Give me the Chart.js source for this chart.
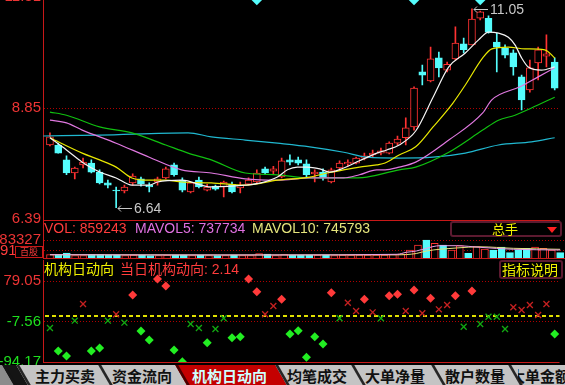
<!DOCTYPE html>
<html>
<head>
<meta charset="utf-8">
<script src="https://cdn.jsdelivr.net/npm/chart.js@4.4.1/dist/chart.umd.min.js"></script>
<style>
html, body { margin: 0; padding: 0; background: #000; }
#wrap { position: relative; width: 565px; height: 385px; overflow: hidden; background: #000;
        font-family: 'Liberation Sans', Arial, 'Noto Sans CJK SC', sans-serif; }
#wrap canvas { position: absolute; left: 0; }
.txt { position: absolute; font-size: 14px; line-height: 16px; white-space: nowrap; }
.box { position: absolute; box-sizing: border-box; border: 2px solid #5c1a30; border-radius: 3px; }
#tabs { position: absolute; left: 0; top: 365px; width: 565px; height: 20px; background: #8c8c8c; overflow: hidden; }
.tab { position: absolute; top: 0; height: 20px; background: #c4c4c4; transform: skewX(30deg);
       border-left: 3px solid #262626; box-sizing: border-box; }
.tab.on { background: #c40000; border-left-color: #4a0000; }
.tt { position: absolute; top: 0; height: 20px; line-height: 20px; white-space: nowrap;
      font: bold 15px 'Noto Sans CJK SC', sans-serif; color: #111; }
.tt.on { color: #cfffff; }
</style>
</head>
<body>
<div id="wrap">
  <canvas id="cPrice" width="565" height="246" style="top:-15px;width:565px;height:246px"></canvas>
  <canvas id="cVol" width="565" height="61" style="top:209px;width:565px;height:61px"></canvas>
  <canvas id="cInst" width="565" height="126" style="top:248px;width:565px;height:126px"></canvas>

  <div class="txt" style="left:44px;top:220px;color:#ff3c3c">VOL: 859243</div>
  <div class="txt" style="left:135px;top:220px;color:#e070e0">MAVOL5: 737734</div>
  <div class="txt" style="left:252px;top:220px;color:#e4e47c">MAVOL10: 745793</div>

  <div class="txt" style="left:0;top:242px;color:#ff3c3c;font-size:15px">91</div>
  <div style="position:absolute;left:15px;top:246px;width:28px;height:12px;box-sizing:border-box;border:1px solid #c81818;color:#ff3c3c;font-size:9px;line-height:10px;text-align:center;font-family:'Noto Sans CJK SC'">百股</div>

  <div class="box" style="left:450px;top:221px;width:112px;height:16px"></div>
  <div class="txt" style="left:492px;top:221px;color:#f4f400;font-size:13px;font-family:'Noto Sans CJK SC'">总手</div>
  <div style="position:absolute;left:547px;top:227px;width:0;height:0;border-left:5px solid transparent;border-right:5px solid transparent;border-top:6px solid #ff2020"></div>

  <div class="txt" style="left:44px;top:261px;color:#f0f000">机构日动向</div>
  <div class="txt" style="left:120px;top:261px;color:#ff3c3c">当日机构动向: 2.14</div>

  <div class="box" style="left:499px;top:260px;width:64px;height:19px"></div>
  <div class="txt" style="left:502px;top:261px;color:#f0f000;font-family:'Noto Sans CJK SC'">指标说明</div>

  <div id="tabs">
    <div class="tab" style="left:8px;width:14px;background:#141414;border-left-color:#141414"></div>
    <div class="tab" style="left:22px;width:82px"></div>
    <div class="tab" style="left:104px;width:77px"></div>
    <div class="tab on" style="left:181px;width:100px"></div>
    <div class="tab" style="left:281px;width:76px"></div>
    <div class="tab" style="left:357px;width:80px"></div>
    <div class="tab" style="left:437px;width:77px"></div>
    <div class="tab" style="left:514px;width:90px"></div>
    <span class="tt" style="left:35px">主力买卖</span>
    <span class="tt" style="left:112px">资金流向</span>
    <span class="tt on" style="left:192px">机构日动向</span>
    <span class="tt" style="left:287px">均笔成交</span>
    <span class="tt" style="left:365px">大单净量</span>
    <span class="tt" style="left:445px">散户数量</span>
    <div style="position:absolute;left:518px;top:0;width:60px;height:20px;overflow:hidden">
      <span class="tt" style="left:-8px">大单金额</span>
    </div>
  </div>
</div>

<script>
// --- data ---
const X_MIN = -0.84, X_MAX = 61.58;   // visible index range of the panels

const opens  = [8.03, 8.03, 7.70, 7.41, 7.59, 7.63, 7.43, 7.19, 7.03, 7.01,
                7.19, 7.28, 7.14, 7.21, 7.30, 7.59, 7.25, 6.99, 7.25, 7.03,
                7.12, 7.10, 7.16, 7.08, 7.16, 7.21, 7.50, 7.45, 7.32, 7.70,
                7.70, 7.61, 7.39, 7.43, 7.21, 7.52, 7.61, 7.63, 7.74, 7.81,
                7.85, 7.85, 8.07, 8.19, 8.43, 9.65, 9.45, 9.96, 9.69, 9.94,
                10.27, 10.25, 10.84, 10.84, 10.31, 10.18, 10.07, 9.54, 9.25, 9.85,
                10.00, 9.87];
const highs  = [8.30, 8.07, 7.79, 7.54, 7.74, 7.70, 7.48, 7.25, 7.10, 7.14,
                7.39, 7.32, 7.19, 7.32, 7.54, 7.63, 7.30, 7.21, 7.32, 7.16,
                7.14, 7.23, 7.21, 7.21, 7.30, 7.48, 7.54, 7.56, 7.74, 7.81,
                7.76, 7.70, 7.48, 7.50, 7.52, 7.68, 7.70, 7.76, 7.85, 7.92,
                7.96, 8.10, 8.23, 8.63, 9.32, 9.80, 10.20, 10.09, 9.87, 10.65,
                10.40, 11.05, 11.00, 10.89, 10.51, 10.25, 10.14, 9.58, 9.91, 10.20,
                10.47, 9.96];
const lows   = [8.01, 7.85, 7.37, 7.28, 7.52, 7.41, 7.17, 7.08, 6.64, 6.97,
                7.14, 7.12, 6.99, 7.14, 7.28, 7.34, 6.99, 6.97, 7.08, 7.01,
                7.03, 6.88, 6.97, 6.97, 7.14, 7.19, 7.37, 7.39, 7.30, 7.59,
                7.59, 7.32, 7.21, 7.25, 7.19, 7.50, 7.56, 7.61, 7.70, 7.76,
                7.81, 7.83, 8.03, 8.03, 8.36, 9.36, 9.43, 9.54, 9.65, 9.91,
                10.07, 10.25, 10.80, 10.51, 9.65, 9.96, 9.58, 8.81, 9.20, 9.47,
                9.76, 9.25];
const closes = [8.21, 7.85, 7.41, 7.52, 7.65, 7.43, 7.19, 7.14, 7.01, 7.10,
                7.34, 7.17, 7.10, 7.28, 7.50, 7.37, 7.03, 7.19, 7.10, 7.10,
                7.05, 7.21, 6.99, 7.14, 7.25, 7.41, 7.41, 7.50, 7.68, 7.65,
                7.63, 7.37, 7.43, 7.30, 7.48, 7.63, 7.65, 7.74, 7.79, 7.85,
                7.90, 8.07, 8.16, 8.41, 9.29, 9.58, 9.94, 9.74, 9.82, 10.29,
                10.14, 10.82, 10.98, 10.53, 10.20, 10.02, 9.76, 9.03, 9.74, 10.14,
                10.05, 9.29];
const priceTicks = [6.39, 8.85, 11.31];

// moving averages as [index, price] vertices
const ma5  = [[0,8.19],[2,7.92],[3.9,7.65],[6,7.43],[8,7.30],[9.9,7.14],[12,7.14],[13,7.21],[15.9,7.25],
              [19.5,7.10],[23.6,7.14],[25.5,7.19],[27.5,7.32],[28.7,7.48],[29.9,7.54],[31.1,7.54],[32.6,7.50],
              [33.8,7.43],[35.5,7.52],[37.4,7.68],[39.5,7.85],[40.7,7.92],[42.2,8.03],[44.2,8.34],[46.3,9.09],
              [48.2,9.76],[50.2,10.07],[51.8,10.36],[53.0,10.53],[54.2,10.51],[55.4,10.42],[56.2,10.25],
              [57.0,9.96],[57.8,9.76],[59.4,9.69],[61.0,9.76]];
const ma10 = [[0,8.19],[3.9,7.85],[6,7.70],[8,7.54],[9.9,7.30],[12,7.25],[14,7.25],[15.9,7.21],[19.5,7.19],
              [23.6,7.14],[27.5,7.25],[31.4,7.32],[33.5,7.41],[35.5,7.48],[37.4,7.54],[39.5,7.59],[40.5,7.63],
              [42.2,7.81],[44.2,7.99],[46.3,8.43],[48.7,8.96],[50.2,9.36],[52.3,9.96],[53.4,10.16],[55.4,10.20],
              [57.4,10.16],[59.8,10.14],[61.0,9.96]];
const ma20 = [[0,8.58],[2,8.52],[3.9,8.36],[8,8.07],[12,7.76],[15.9,7.48],[19.5,7.41],[23.6,7.28],[27.5,7.25],
              [31.4,7.30],[35.5,7.30],[37.4,7.37],[39.5,7.48],[40.5,7.48],[42.2,7.54],[44.2,7.65],[48.2,8.14],
              [52.3,8.74],[53.4,9.03],[56.8,9.32],[59.0,9.54],[61.0,9.74]];
const ma30 = [[0,8.76],[2,8.69],[6,8.43],[9.9,8.30],[14,8.03],[16.7,7.85],[19.5,7.70],[23.6,7.41],[27.5,7.37],
              [31.4,7.30],[35.5,7.30],[38.3,7.32],[42.2,7.48],[44.2,7.54],[48.2,7.87],[52.3,8.36],[54.2,8.58],
              [56.2,8.69],[58.2,8.85],[61.0,9.09]];
const ma60 = [[-0.8,8.23],[6,8.25],[16.7,8.30],[19.5,8.21],[23.6,8.14],[27.5,8.07],[31.4,7.99],[35.5,7.87],
              [38.3,7.76],[42.2,7.74],[46.3,7.76],[50.2,7.85],[54.2,8.03],[58.2,8.10],[61.0,8.19]];

const signalIdx = [25, 44, 52];
const signalPrice = 11.25;

// volume panel
const volumes = [22900, 22900, 29200, 18700, 18700, 22900, 22900, 20800, 20800, 18700,
                 20800, 20800, 18700, 18700, 20800, 20800, 20800, 18700, 20800, 18700,
                 18700, 18700, 20800, 18700, 18700, 27100, 25000, 18700, 22900, 20800,
                 20800, 20800, 20800, 20800, 18700, 20800, 20800, 20800, 20800, 20800,
                 20800, 22900, 25000, 41700, 62500, 83300, 69600, 62500, 41700, 59600,
                 27900, 55400, 45800, 41700, 54200, 30400, 41700, 48800, 54200, 48800,
                 41700, 30400];
const mavol5  = [[0,22000],[12,21000],[27.5,21000],[41.5,23700],[42.6,32100],[43.8,37500],[45,48700],
                 [46.6,59600],[48.6,59600],[51.4,52900],[55.4,44600],[61,41700]];
const mavol10 = [[0,22000],[20,20800],[41.5,21500],[43.8,27000],[45,37500],[48.6,50000],[51.4,55000],
                 [55.4,48700],[61,44600]];
const volTicks = [41663, 83327];
const VOL_MIN = 8333, VOL_MAX = 162490;

// 机构日动向 panel
const instFlow = [-21.5, -70.6, -81.3, -5.8, 29.9, -70.6, -64.2, -5.8, 7.9, -10.1,
                  49.1, -27.9, -47.1, 83.3, 68.4, -68.5, -93.5, -12.9, -21.5, -52.9,
                  -23.6, -0.7, -42.2, -40.1, 83.3, 56.2, 7.9, 25.6, 39.9, -34.3,
                  -27.2, -84.1, -40.1, -55.7, 54.0, -0.7, 32.6, 14.9, 39.9, 12.1,
                  -0.7, 47.6, 50.6, 14.9, 59.8, 10.0, 42.1, 18.5, 27.7, 47.6,
                  -18.7, 57.7, -12.9, 2.7, 2.7, -23.6, 22.8, 17.0, 27.7, 6.3,
                  29.9, -34.3];
const instTicks = [-94.17, -7.56, 79.05];
const INST_MIN = -94.17, INST_MAX = 123.96;
const instLevel = 5;
const BIG_HI = 36, BIG_LO = -26;

// --- styling ---
const CYAN = '#54fcfc', RED = '#ff3232', AXIS_RED = '#c81818', DOT_RED = '#b00000';
const LABEL_RED = '#ec3434', LABEL_GREEN = '#1ee01e';
const FONT = "'Liberation Sans', Arial, sans-serif";

const idx = opens.map((_, i) => i);
const isUp = i => closes[i] >= opens[i];
const pts = arr => arr.map(p => ({ x: p[0], y: p[1] }));

function xAxis() {
    // offset:false so bars sit on the same index grid as the lines
    return { type: 'linear', min: X_MIN, max: X_MAX, offset: false, display: false };
}

function leftAxis(min, max, tickVals, labelFn, colorFn, gridFn) {
    return {
        position: 'left',
        min: min,
        max: max,
        afterBuildTicks: s => { s.ticks = tickVals.map(v => ({ value: v })); },
        afterFit: s => { s.width = 43; },
        ticks: {
            autoSkip: false,
            padding: 2,
            font: { size: 15, family: FONT },
            color: c => colorFn(c.tick ? c.tick.value : null),
            callback: v => labelFn(v)
        },
        grid: {
            drawTicks: false,
            lineWidth: 1,
            color: c => gridFn(c.tick ? c.tick.value : null)
        },
        border: { display: true, color: AXIS_RED, width: 1, dash: [1, 2] }
    };
}

function lineSet(data, color, width) {
    return {
        type: 'line', data: pts(data), borderColor: color, borderWidth: width || 1.2,
        pointRadius: 0, cubicInterpolationMode: 'monotone', order: 1
    };
}

// red line along the bottom of each panel
const panelEdge = {
    id: 'panelEdge',
    afterDraw(chart, args, opts) {
        const { ctx, chartArea: a } = chart;
        const y = Math.round(a.bottom + (opts.shift || 0)) + 0.5;
        ctx.save();
        ctx.strokeStyle = AXIS_RED;
        ctx.lineWidth = 1;
        ctx.beginPath();
        ctx.moveTo(a.left, y);
        ctx.lineTo(a.right, y);
        ctx.stroke();
        ctx.restore();
    }
};

// "<- 6.64" style marks on the lowest low and highest high
const extremeMarks = {
    id: 'extremeMarks',
    afterDatasetsDraw(chart) {
        const { ctx, scales: { x, y } } = chart;
        const iLo = lows.indexOf(Math.min(...lows));
        const iHi = highs.indexOf(Math.max(...highs));
        [[iLo, lows[iLo]], [iHi, highs[iHi]]].forEach(([i, v]) => {
            const px = Math.round(x.getPixelForValue(i)) + 1;
            const py = Math.round(y.getPixelForValue(v)) + 0.5;
            ctx.save();
            ctx.strokeStyle = '#c8c8c8';
            ctx.lineWidth = 1;
            ctx.beginPath();
            ctx.moveTo(px + 15, py);
            ctx.lineTo(px + 1, py);
            ctx.moveTo(px + 4, py - 3);
            ctx.lineTo(px + 1, py);
            ctx.lineTo(px + 4, py + 3);
            ctx.stroke();
            ctx.fillStyle = '#c8c8c8';
            ctx.font = '14px ' + FONT;
            ctx.textBaseline = 'middle';
            ctx.fillText(v.toFixed(2), px + 17, py + 1);
            ctx.restore();
        });
    }
};

// yellow dashed reference level in the 机构日动向 panel
const levelLine = {
    id: 'levelLine',
    beforeDatasetsDraw(chart) {
        const { ctx, chartArea: a, scales: { y } } = chart;
        const py = Math.round(y.getPixelForValue(instLevel));
        ctx.save();
        ctx.strokeStyle = '#e0e000';
        ctx.lineWidth = 2;
        ctx.setLineDash([4, 3]);
        ctx.beginPath();
        ctx.moveTo(a.left + 2, py);
        ctx.lineTo(a.right, py);
        ctx.stroke();
        ctx.restore();
    }
};

const common = {
    responsive: false,
    animation: false,
    events: [],
    layout: { padding: { top: 12, bottom: 12, left: 0, right: 0 } }
};

// --- price panel ---
new Chart(document.getElementById('cPrice'), {
    type: 'bar',
    data: {
        datasets: [
            { type: 'scatter', data: signalIdx.map(i => ({ x: i, y: signalPrice })), pointStyle: 'rectRot',
              pointRadius: 5.5, backgroundColor: CYAN, borderWidth: 0, order: 0 },
            lineSet(ma5, '#f4f4f4'),
            lineSet(ma10, '#e8e800'),
            lineSet(ma20, '#e078e0'),
            lineSet(ma30, '#10c010'),
            lineSet(ma60, '#20b8d0'),
            {
                type: 'bar',
                data: idx.map(i => ({ x: i, y: [opens[i], closes[i]] })),
                backgroundColor: idx.map(i => isUp(i) ? '#000' : CYAN),
                borderColor: idx.map(i => isUp(i) ? RED : CYAN),
                borderWidth: 1, borderSkipped: false, barThickness: 7, grouped: false, order: 2
            },
            {
                type: 'bar',
                data: idx.map(i => ({ x: i, y: [lows[i], highs[i]] })),
                backgroundColor: idx.map(i => isUp(i) ? RED : CYAN),
                borderWidth: 0, barThickness: 1, grouped: false, order: 3
            }
        ]
    },
    options: Object.assign({}, common, {
        plugins: { legend: { display: false }, tooltip: { enabled: false }, panelEdge: { shift: 1 } },
        scales: {
            x: xAxis(),
            y: leftAxis(priceTicks[0], priceTicks[2], priceTicks,
                v => v.toFixed(2),
                () => LABEL_RED,
                v => v === priceTicks[1] ? DOT_RED : 'rgba(0,0,0,0)')
        }
    }),
    plugins: [panelEdge, extremeMarks]
});

// --- volume panel ---
new Chart(document.getElementById('cVol'), {
    type: 'bar',
    data: {
        datasets: [
            lineSet(mavol5, '#e8a0e8', 1),
            lineSet(mavol10, '#e4e47c', 1),
            {
                type: 'bar',
                data: idx.map(i => ({ x: i, y: volumes[i] })),
                backgroundColor: idx.map(i => isUp(i) ? '#000' : CYAN),
                borderColor: idx.map(i => isUp(i) ? RED : CYAN),
                borderWidth: 1, borderSkipped: false, barThickness: 7, grouped: false, order: 2
            }
        ]
    },
    options: Object.assign({}, common, {
        plugins: { legend: { display: false }, tooltip: { enabled: false }, panelEdge: { shift: 0 } },
        scales: {
            x: xAxis(),
            y: leftAxis(VOL_MIN, VOL_MAX, volTicks,
                v => v === volTicks[1] ? String(v) : '',
                () => LABEL_RED,
                () => DOT_RED)
        }
    }),
    plugins: [panelEdge]
});

// --- 机构日动向 panel ---
new Chart(document.getElementById('cInst'), {
    type: 'scatter',
    data: {
        datasets: [{
            data: instFlow.map((v, i) => ({ x: i, y: v })),
            pointStyle: c => {
                const v = instFlow[c.dataIndex];
                return (v > BIG_HI || v < BIG_LO) ? 'rectRot' : 'crossRot';
            },
            pointRadius: c => {
                const v = instFlow[c.dataIndex];
                return (v > BIG_HI || v < BIG_LO) ? 4.5 : 4.2;
            },
            backgroundColor: c => instFlow[c.dataIndex] > instLevel ? '#ff3a3a' : '#22ee22',
            borderColor: c => {
                const v = instFlow[c.dataIndex];
                if (v > BIG_HI || v < BIG_LO) return v > instLevel ? '#ff3a3a' : '#22ee22';
                return v > instLevel ? '#c42020' : '#12a812';
            },
            borderWidth: c => {
                const v = instFlow[c.dataIndex];
                return (v > BIG_HI || v < BIG_LO) ? 0 : 1.3;
            }
        }]
    },
    options: Object.assign({}, common, {
        plugins: { legend: { display: false }, tooltip: { enabled: false }, panelEdge: { shift: 0 } },
        scales: {
            x: xAxis(),
            y: leftAxis(INST_MIN, INST_MAX, instTicks,
                v => v.toFixed(2),
                v => v === instTicks[2] ? LABEL_RED : LABEL_GREEN,
                v => v === instTicks[0] ? 'rgba(0,0,0,0)' : DOT_RED)
        }
    }),
    plugins: [panelEdge, levelLine]
});
</script>
</body>
</html>
